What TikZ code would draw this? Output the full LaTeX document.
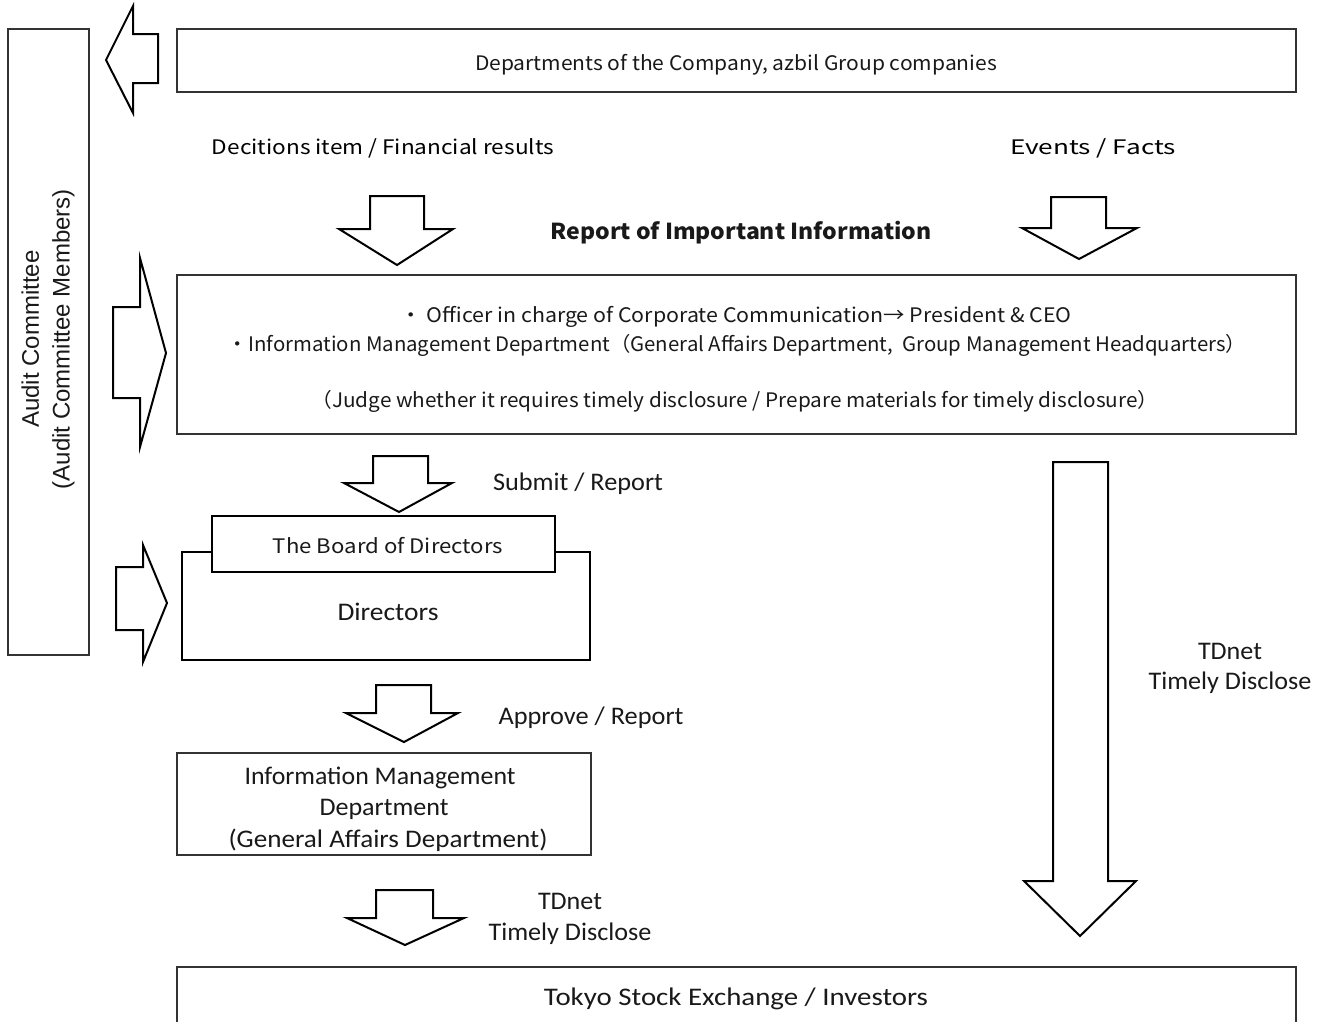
\documentclass[tikz,border=0pt]{standalone}
\usepackage{fontspec}
\usepackage{graphicx}
\setmainfont{Liberation Sans}
\newfontfamily\jpf{Noto Sans CJK JP}
\newfontfamily\calf{Carlito}
\newlength\px
\setlength\px{0.75pt}
\newcommand\fitt[2]{\resizebox{#1\px}{\height}{#2}}
\newcommand\blkdown[8]{\draw[blk] (#1,#3) -- (#2,#3) -- (#2,#4) -- (#6,#4) -- (#7,#8) -- (#5,#4) -- (#1,#4) -- cycle;}
\newcommand\blkright[8]{\draw[blk] (#1,#3) -- (#2,#3) -- (#2,#5) -- (#7,#8) -- (#2,#6) -- (#2,#4) -- (#1,#4) -- cycle;}
\begin{document}
\begin{tikzpicture}[x=0.75pt,y=-0.75pt,
  thinbox/.style={draw=black!80,line width=0.8pt},
  thickbox/.style={draw=black,line width=1.5pt,fill=white},
  blk/.style={draw=black,line width=1.5pt,fill=white,line join=miter},
  lbl/.style={inner sep=0pt,outer sep=0pt,anchor=center,text=black!90,yshift=-1.5pt},
  jp/.style={lbl,font=\jpf\fontsize{15}{18}\selectfont},
  cal/.style={lbl,font=\calf\fontsize{19}{23}\selectfont}]
\useasboundingbox (0,0) rectangle (1326,1021);
% boxes
\draw[thinbox] (8,29) rectangle (89,655) coordinate (auditbr);
\coordinate (audit) at (48,341);
\draw[thinbox] (177,29) rectangle (1296,92);
\coordinate (dept) at (736,63);
\draw[thinbox] (177,275) rectangle (1296,434);
\coordinate (info) at (736,355);
\draw[thickbox] (182,552) rectangle (590,660);
\draw[thickbox] (212,516) rectangle (555,572);
\draw[thinbox] (177,753) rectangle (591,855);
\draw[thinbox] (177,1030) -- (177,967) -- (1296,967) -- (1296,1030);
% block arrows
\draw[blk] (158,34) -- (133,34) -- (133,6) -- (106,60) -- (133,113) -- (133,83) -- (158,83) -- cycle;
\blkright{113}{140}{307}{398}{258}{447}{166}{353}
\blkright{116}{143}{567}{630}{545}{662}{167}{603}
\blkdown{370}{424}{196}{229}{339}{453}{397}{265}
\blkdown{1051}{1106}{197}{228}{1022}{1137}{1079}{259}
\blkdown{373}{428}{456}{483}{344}{452}{399}{512}
\blkdown{376}{431}{685}{713}{346}{458}{404}{742}
\blkdown{376}{433}{890}{918}{347}{464}{405}{945}
\blkdown{1053}{1108}{462}{881}{1024}{1136}{1080}{936}
% texts
\node[inner sep=0pt,rotate=90,align=center,text=black!90,font=\fontsize{18}{23}\selectfont,xshift=1.5pt] (auditt) at (audit) {Audit Committee\\(Audit Committee Members)};
\node[jp] (deptt) at (dept) {\fitt{522}{Departments of the Company, azbil Group companies}};
\node[jp,text=black] (dec) at (383,146) {\fitt{342}{Decitions item / Financial results}};
\node[jp,text=black] (evt) at (1093,146) {\fitt{166}{Events / Facts}};
\node[jp,font=\jpf\bfseries\fontsize{16.5}{20}\selectfont] (rep) at (741,231) {\fitt{381}{Report of Important Information}};
\node[jp] (l1) at (736,315) {\fitt{671}{・ Officer in charge of Corporate Communication→ President \& CEO}};
\node[jp] (l2) at (737,343) {\fitt{1018}{・Information Management Department（General Affairs Department,\ \ Group Management Headquarters）}};
\node[jp] (l3) at (735,399) {\fitt{847}{（Judge whether it requires timely disclosure / Prepare materials for timely disclosure）}};
\node[cal] (sub) at (578,482) {\fitt{170}{Submit / Report}};
\node[jp] (board) at (388,544) {\fitt{230}{The Board of Directors}};
\node[cal] (dir) at (388,610) {\fitt{101}{Directors}};
\node[cal] (appr) at (591,716) {\fitt{185}{Approve / Report}};
\node[cal] (imd1) at (380,776) {\fitt{271}{Information Management}};
\node[cal] (imd2) at (384,807) {\fitt{129}{Department}};
\node[cal] (imd3) at (388,838) {\fitt{319}{(General Affairs Department)}};
\node[cal] (td1) at (570,899) {\fitt{64}{TDnet}};
\node[cal] (td2) at (570,932) {\fitt{163}{Timely Disclose}};
\node[cal] (td3) at (1230,649) {\fitt{64}{TDnet}};
\node[cal] (td4) at (1230,681) {\fitt{163}{Timely Disclose}};
\node[cal] (tokyo) at (736,997) {\fitt{384}{Tokyo Stock Exchange / Investors}};
\end{tikzpicture}
\end{document}
